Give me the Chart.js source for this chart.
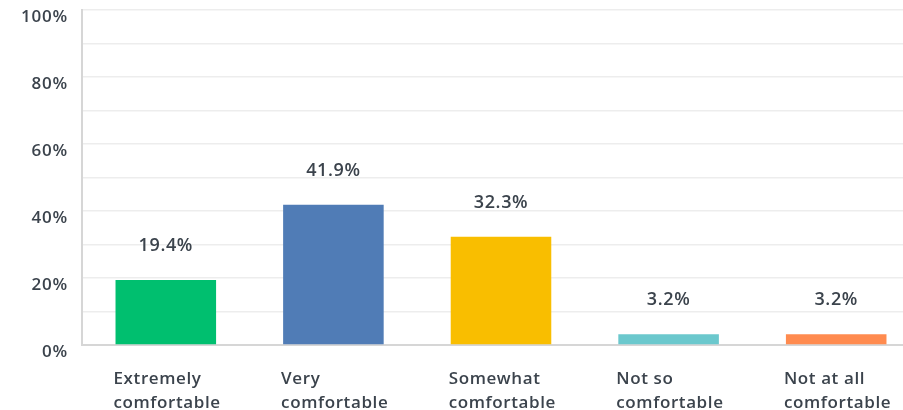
<!DOCTYPE html>
<html>
<head>
<meta charset="utf-8">
<script src="https://cdn.jsdelivr.net/npm/chart.js@4/dist/chart.umd.min.js"></script>
<style>
  html, body { margin: 0; padding: 0; background: #fff; overflow: hidden; }
  #wrap { width: 920px; height: 410px; }
</style>
</head>
<body>
<div id="wrap"><canvas id="comfortChart"></canvas></div>
<script>
// Answer choices and share of respondents (%)
const categories = [['Extremely', 'comfortable'], ['Very', 'comfortable'], ['Somewhat', 'comfortable'], ['Not so', 'comfortable'], ['Not at all', 'comfortable']];
const percentages = [19.4, 41.9, 32.3, 3.2, 3.2];
const barColors = ['#00bf6f', '#507cb6', '#f9be00', '#6bc8cd', '#ff8b4f'];
const yTickLabels = [0, 20, 40, 60, 80, 100];

const textColor = '#3b434c';
const fontFamily = '"Open Sans", "DejaVu Sans", sans-serif';

// draws the value labels, the left-aligned category labels and the y tick labels
const labelPlugin = {
    id: 'labelPlugin',
    afterDraw(chart) {
        const ctx = chart.ctx;
        const x = chart.scales.x;
        const y = chart.scales.y;
        const meta = chart.getDatasetMeta(0);
        ctx.save();
        ctx.fillStyle = textColor;
        ctx.letterSpacing = '0.6px';

        // values above bars
        ctx.font = '600 18px ' + fontFamily;
        ctx.textAlign = 'center';
        ctx.textBaseline = 'middle';
        meta.data.forEach((bar, i) => {
            ctx.fillText(percentages[i].toFixed(1) + '%', bar.x, bar.y - 34);
        });

        // category labels, start at bar left edge
        ctx.font = '600 17px ' + fontFamily;
        ctx.textAlign = 'left';
        meta.data.forEach((bar, i) => {
            const left = x.getPixelForTick(i) - bar.width / 2 - 2;
            categories[i].forEach((line, j) => {
                ctx.fillText(line, left, y.bottom + 34 + j * 24);
            });
        });

        // y tick labels
        ctx.font = '600 17px ' + fontFamily;
        ctx.letterSpacing = '0.8px';
        ctx.textAlign = 'right';
        yTickLabels.forEach(v => {
            ctx.fillText(v + '%', x.left - 14, y.getPixelForValue(v) + 7);
        });
        ctx.restore();
    }
};

const ctx = document.getElementById('comfortChart').getContext('2d');
const comfortChart = new Chart(ctx, {
    type: 'bar',
    data: {
        labels: categories,
        datasets: [{
            data: percentages,
            backgroundColor: barColors,
            borderWidth: 0,
            barPercentage: 0.6,
            categoryPercentage: 1.0
        }]
    },
    options: {
        responsive: true,
        maintainAspectRatio: false,
        animation: false,
        layout: { padding: { left: 82, top: 10, bottom: 65, right: 0 } },
        scales: {
            x: {
                ticks: { display: false },
                grid: { display: false, drawTicks: false },
                border: { display: true, color: '#d6d6d6', width: 2 }
            },
            y: {
                min: 0,
                max: 100,
                ticks: { display: false, stepSize: 10 },
                grid: { color: '#ededed', lineWidth: 1.5, drawTicks: false },
                border: { display: true, color: '#d6d6d6', width: 2 }
            }
        },
        plugins: {
            legend: { display: false },
            tooltip: { enabled: false }
        }
    },
    plugins: [labelPlugin]
});
</script>
</body>
</html>
